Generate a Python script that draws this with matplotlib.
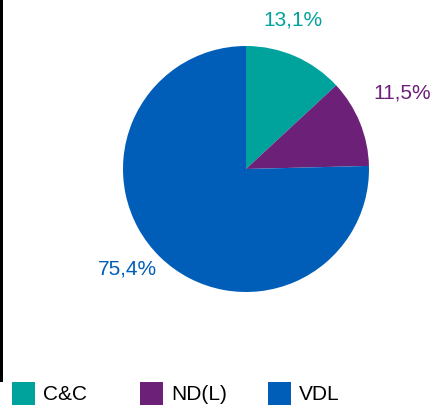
import matplotlib
matplotlib.use("Agg")
import numpy as np
import matplotlib.pyplot as plt
from matplotlib.patches import Rectangle

categories = ["C&C", "ND(L)", "VDL"]
shares = [13.1, 11.5, 75.4]
colors = ["#00A29C", "#6C2078", "#005EB8"]

plt.rcParams["font.family"] = ["Liberation Sans", "DejaVu Sans"]

W, H = 436, 407
fig = plt.figure(figsize=(W / 100, H / 100), dpi=100)

# pie: centre (246,169) px, radius 123 px
cx, cy, r = 246, 169, 123
ax = fig.add_axes([(cx - r) / W, (H - cy - r) / H, 2 * r / W, 2 * r / H])
wedges, _ = ax.pie(shares, colors=colors, startangle=90, counterclock=False,
                   radius=1, wedgeprops=dict(linewidth=0))
ax.set_xlim(-1, 1)
ax.set_ylim(-1, 1)
ax.set_aspect("equal")
ax.axis("off")

# percentage labels, placed near the wedge middle
offsets = [(6, 1.27), (4, 1.41), (-5.4, 1.26)]  # (angle tweak deg, distance)
for w, val, col, (da, dist) in zip(wedges, shares, colors, offsets):
    ang = np.deg2rad((w.theta1 + w.theta2) / 2 + da)
    ax.text(dist * np.cos(ang), dist * np.sin(ang),
            f"{val:.1f}%".replace(".", ","), color=col, fontsize=15,
            ha="center", va="center", clip_on=False)

# black bar on the left edge
fig.add_artist(Rectangle((0, 1 - 382 / H), 3 / W, 382 / H,
                         transform=fig.transFigure, color="black", lw=0))

# legend row
for i, (name, col) in enumerate(zip(categories, colors)):
    x0 = 12 + 128 * i
    fig.add_artist(Rectangle((x0 / W, 1 - 405 / H), 23 / W, 23 / H,
                             transform=fig.transFigure, color=col, lw=0))
    fig.text((x0 + 31) / W, 1 - 394 / H, name, fontsize=15,
             ha="left", va="center", color="black")

fig.savefig("out.png", dpi=100)
